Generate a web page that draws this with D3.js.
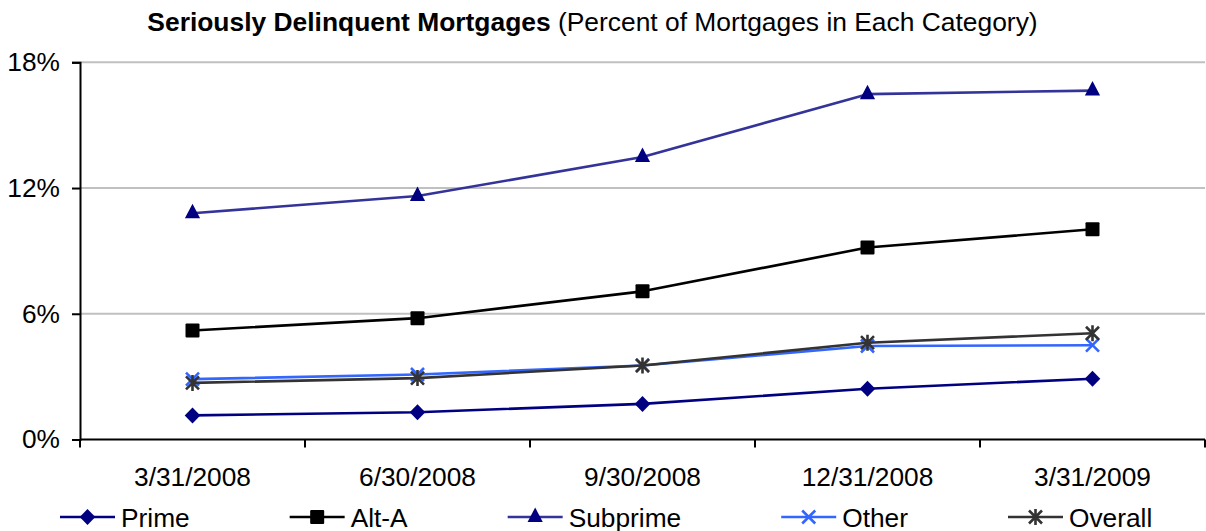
<!DOCTYPE html>
<html>
<head>
<meta charset="utf-8">
<script src="https://cdn.jsdelivr.net/npm/d3@7/dist/d3.min.js"></script>
<style>
  html, body { margin: 0; padding: 0; background: #fff; }
  svg { display: block; font-family: Arial, "Liberation Sans", sans-serif; }
</style>
</head>
<body>
<svg id="chart" width="1206" height="531"></svg>
<script>
const categories = ["3/31/2008", "6/30/2008", "9/30/2008", "12/31/2008", "3/31/2009"];
const yTicks = [0, 6, 12, 18];
const prime    = [1.15, 1.30, 1.70, 2.42, 2.90];
const altA     = [5.20, 5.79, 7.07, 9.16, 10.03];
const subprime = [10.80, 11.62, 13.48, 16.48, 16.65];
const other    = [2.88, 3.10, 3.53, 4.46, 4.50];
const overall  = [2.70, 2.93, 3.53, 4.62, 5.07];
const seriesNames = ["Prime", "Alt-A", "Subprime", "Other", "Overall"];

const series = [
  { name: seriesNames[0], values: prime,    line: "#000080", marker: "diamond",  mfill: "#000080" },
  { name: seriesNames[1], values: altA,     line: "#000000", marker: "square",   mfill: "#000000" },
  { name: seriesNames[2], values: subprime, line: "#333399", marker: "triangle", mfill: "#000080" },
  { name: seriesNames[3], values: other,    line: "#3366FF", marker: "x",        mfill: "#3366FF" },
  { name: seriesNames[4], values: overall,  line: "#333333", marker: "star",     mfill: "#333333" }
];

const svg = d3.select("#chart");
const plotLeft = 80, plotRight = 1205, plotTop = 62.3, plotBottom = 439.5;

const x = d3.scaleBand().domain(categories).range([plotLeft, plotRight]).paddingInner(0).paddingOuter(0);
const y = d3.scaleLinear().domain([0, 18]).range([plotBottom, plotTop]);
const cx = c => x(c) + x.bandwidth() / 2;

// Title
const title = svg.append("text")
  .attr("x", 592.5).attr("y", 31)
  .attr("text-anchor", "middle")
  .style("font-size", "26.4px")
  .attr("fill", "#000");
title.append("tspan").attr("font-weight", "bold").text("Seriously Delinquent Mortgages");
title.append("tspan").text(" (Percent of Mortgages in Each Category)");

// Gridlines
svg.append("g").selectAll("line")
  .data(yTicks.filter(d => d > 0))
  .join("line")
  .attr("x1", plotLeft).attr("x2", plotRight)
  .attr("y1", d => y(d)).attr("y2", d => y(d))
  .attr("stroke", "#c0c0c0").attr("stroke-width", 2);

// Y axis
const yAxis = d3.axisLeft(y).tickValues(yTicks).tickSize(8).tickPadding(12).tickFormat(d => d + "%");
const gy = svg.append("g").attr("transform", `translate(${plotLeft},0)`).call(yAxis);
gy.select(".domain").attr("stroke", "#000").attr("stroke-width", 2);
gy.selectAll(".tick line").attr("stroke", "#000").attr("stroke-width", 2);
gy.selectAll(".tick text").style("font-size", "26.3px").attr("fill", "#000")
  .attr("font-family", "Arial, 'Liberation Sans', sans-serif");

// X axis (ticks at band boundaries)
const gx = svg.append("g").attr("transform", `translate(0,${plotBottom})`);
gx.append("line").attr("x1", plotLeft).attr("x2", plotRight).attr("y1", 0).attr("y2", 0)
  .attr("stroke", "#000").attr("stroke-width", 2);
const boundaries = categories.map(c => x(c)).concat([plotRight]);
gx.selectAll("line.tk").data(boundaries).join("line").attr("class", "tk")
  .attr("x1", d => d).attr("x2", d => d).attr("y1", 0).attr("y2", 8)
  .attr("stroke", "#000").attr("stroke-width", 2);
gx.selectAll("text").data(categories).join("text")
  .attr("x", d => cx(d)).attr("y", 46)
  .attr("text-anchor", "middle")
  .style("font-size", "26.3px").attr("fill", "#000")
  .text(d => d);

// Marker drawing
function drawMarker(g, type, color) {
  if (type === "diamond") {
    g.append("path").attr("d", "M0,-8L7.8,0L0,8L-7.8,0Z").attr("fill", color);
  } else if (type === "square") {
    g.append("rect").attr("x", -7).attr("y", -7).attr("width", 14).attr("height", 14).attr("rx", 1).attr("fill", color);
  } else if (type === "triangle") {
    g.append("path").attr("d", "M0,-9.5L7.6,5L-7.6,5Z").attr("fill", color);
  } else if (type === "x") {
    g.append("path").attr("d", "M-6.5,-6.5L6.5,6.5M-6.5,6.5L6.5,-6.5")
      .attr("stroke", color).attr("stroke-width", 2.6).attr("fill", "none");
  } else if (type === "star") {
    g.append("path").attr("d", "M-6.5,-6.5L6.5,6.5M-6.5,6.5L6.5,-6.5M0,-8L0,8")
      .attr("stroke", color).attr("stroke-width", 2.6).attr("fill", "none");
  }
}

const line = d3.line().x((d, i) => cx(categories[i])).y(d => y(d));

series.forEach(s => {
  const g = svg.append("g");
  g.append("path").attr("d", line(s.values))
    .attr("fill", "none").attr("stroke", s.line).attr("stroke-width", 2.6)
    .attr("stroke-linejoin", "round");
  s.values.forEach((v, i) => {
    const m = g.append("g").attr("transform", `translate(${cx(categories[i])},${y(v)})`);
    drawMarker(m, s.marker, s.mfill);
  });
});

// Legend
const legend = svg.append("g");
let lx = 60;
const ly = 517;
series.forEach(s => {
  const g = legend.append("g");
  g.append("line").attr("x1", lx).attr("x2", lx + 55).attr("y1", ly).attr("y2", ly)
    .attr("stroke", s.line).attr("stroke-width", 2.6);
  const m = g.append("g").attr("transform", `translate(${lx + 27.5},${ly})`);
  drawMarker(m, s.marker, s.mfill);
  const t = g.append("text").attr("x", lx + 61).attr("y", ly + 9.5)
    .style("font-size", "26.3px").attr("fill", "#000").text(s.name);
  const w = t.node().getComputedTextLength();
  lx = lx + 61 + w + 100;
});
</script>
</body>
</html>
